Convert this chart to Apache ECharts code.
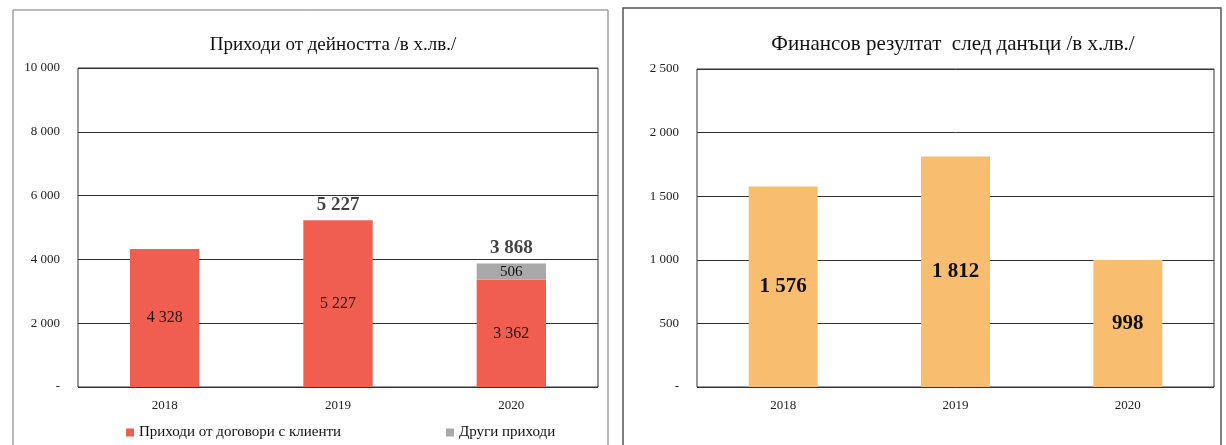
<!DOCTYPE html>
<html>
<head>
<meta charset="utf-8">
<script src="https://cdn.jsdelivr.net/npm/echarts@6/dist/echarts.min.js"></script>
<style>
  html, body { margin: 0; padding: 0; background: #fff; }
  #chart { width: 1226px; height: 445px; }
</style>
</head>
<body>
<div id="chart"></div>
<script>
// данни
const years = ['2018', '2019', '2020'];
const clientRevenue = [4328, 5227, 3362];
const otherRevenue = [null, null, 506];
const revenueTotals = [null, 5227, 3868];
const profitAfterTax = [1576, 1812, 998];

const legendNames = ['Приходи от договори с клиенти', 'Други приходи'];
const titleLeft = 'Приходи от дейността /в х.лв./';
const titleRight = 'Финансов резултат  след данъци /в х.лв./';

const serif = '"Liberation Serif", "DejaVu Serif", serif';

// 4328 -> "4 328", 0 -> "-"
function fmt(v) {
  if (v === 0) return '-';
  return String(v).replace(/\B(?=(\d{3})+(?!\d))/g, ' ');
}

const chart = echarts.init(document.getElementById('chart'));

const axisLabel = { color: '#222', fontFamily: serif, fontSize: 13, formatter: fmt, margin: 18 };
const gridLine = { lineStyle: { color: '#333', width: 1 } };
const xLabel = { color: '#222', fontFamily: serif, fontSize: 13, margin: 12 };

chart.setOption({
  backgroundColor: '#fff',
  animation: false,
  textStyle: { fontFamily: serif },
  title: [
    { text: titleLeft, left: 328, top: 31, textAlign: 'center',
      textStyle: { fontFamily: serif, fontSize: 19, fontWeight: 'normal', color: '#111' } },
    { text: titleRight, left: 948, top: 29, textAlign: 'center',
      textStyle: { fontFamily: serif, fontSize: 21, fontWeight: 'normal', color: '#111' } }
  ],
  legend: {
    data: legendNames,
    left: 121,
    top: 420,
    itemWidth: 8,
    itemHeight: 8,
    itemGap: 105,
    icon: 'rect',
    textStyle: { fontFamily: serif, fontSize: 15, color: '#111' }
  },
  grid: [
    { left: 78, right: 628, top: 68, bottom: 58, show: true, borderColor: '#333', borderWidth: 1 },
    { left: 697, right: 12, top: 69, bottom: 58, show: true, borderColor: '#333', borderWidth: 1 }
  ],
  xAxis: [
    { type: 'category', gridIndex: 0, data: years,
      axisLine: { show: false }, axisTick: { show: false }, axisLabel: xLabel },
    { type: 'category', gridIndex: 1, data: years,
      axisLine: { show: false }, axisTick: { show: false }, axisLabel: xLabel }
  ],
  yAxis: [
    { type: 'value', gridIndex: 0, min: 0, max: 10000, interval: 2000,
      axisLabel: axisLabel, splitLine: gridLine, axisLine: { show: false }, axisTick: { show: false } },
    { type: 'value', gridIndex: 1, min: 0, max: 2500, interval: 500,
      axisLabel: axisLabel, splitLine: gridLine, axisLine: { show: false }, axisTick: { show: false } }
  ],
  graphic: [
    { type: 'rect', shape: { x: 13, y: 10, width: 595, height: 440 },
      style: { fill: 'none', stroke: '#777', lineWidth: 1 } },
    { type: 'rect', shape: { x: 623, y: 8, width: 598, height: 442 },
      style: { fill: 'none', stroke: '#555', lineWidth: 1.5 } }
  ],
  series: [
    {
      name: legendNames[0], type: 'bar', stack: 'rev', xAxisIndex: 0, yAxisIndex: 0,
      data: clientRevenue, barWidth: '40%',
      itemStyle: { color: '#EF5E4E' },
      label: { show: true, position: 'inside', formatter: p => fmt(p.value),
        color: '#2a1512', fontFamily: serif, fontSize: 16 }
    },
    {
      name: legendNames[1], type: 'bar', stack: 'rev', xAxisIndex: 0, yAxisIndex: 0,
      data: otherRevenue, barWidth: '40%',
      itemStyle: { color: '#A9A9A9' },
      label: { show: true, position: 'inside', formatter: p => fmt(p.value),
        color: '#111', fontFamily: serif, fontSize: 15 }
    },
    {
      // общо над стълбовете
      name: 'total', type: 'scatter', xAxisIndex: 0, yAxisIndex: 0,
      data: revenueTotals, symbolSize: 2, itemStyle: { color: 'rgba(0,0,0,0)' }, silent: true,
      label: { show: true, position: 'top', distance: 5, formatter: p => fmt(p.value),
        color: '#111', fontFamily: serif, fontSize: 19, fontWeight: 'bold' }
    },
    {
      name: 'profit', type: 'bar', xAxisIndex: 1, yAxisIndex: 1,
      data: profitAfterTax, barWidth: '40%',
      itemStyle: { color: '#F8BD6F' },
      label: { show: true, position: 'inside', formatter: p => fmt(p.value),
        color: '#111', fontFamily: serif, fontSize: 21, fontWeight: 'bold' }
    }
  ]
});
</script>
</body>
</html>
